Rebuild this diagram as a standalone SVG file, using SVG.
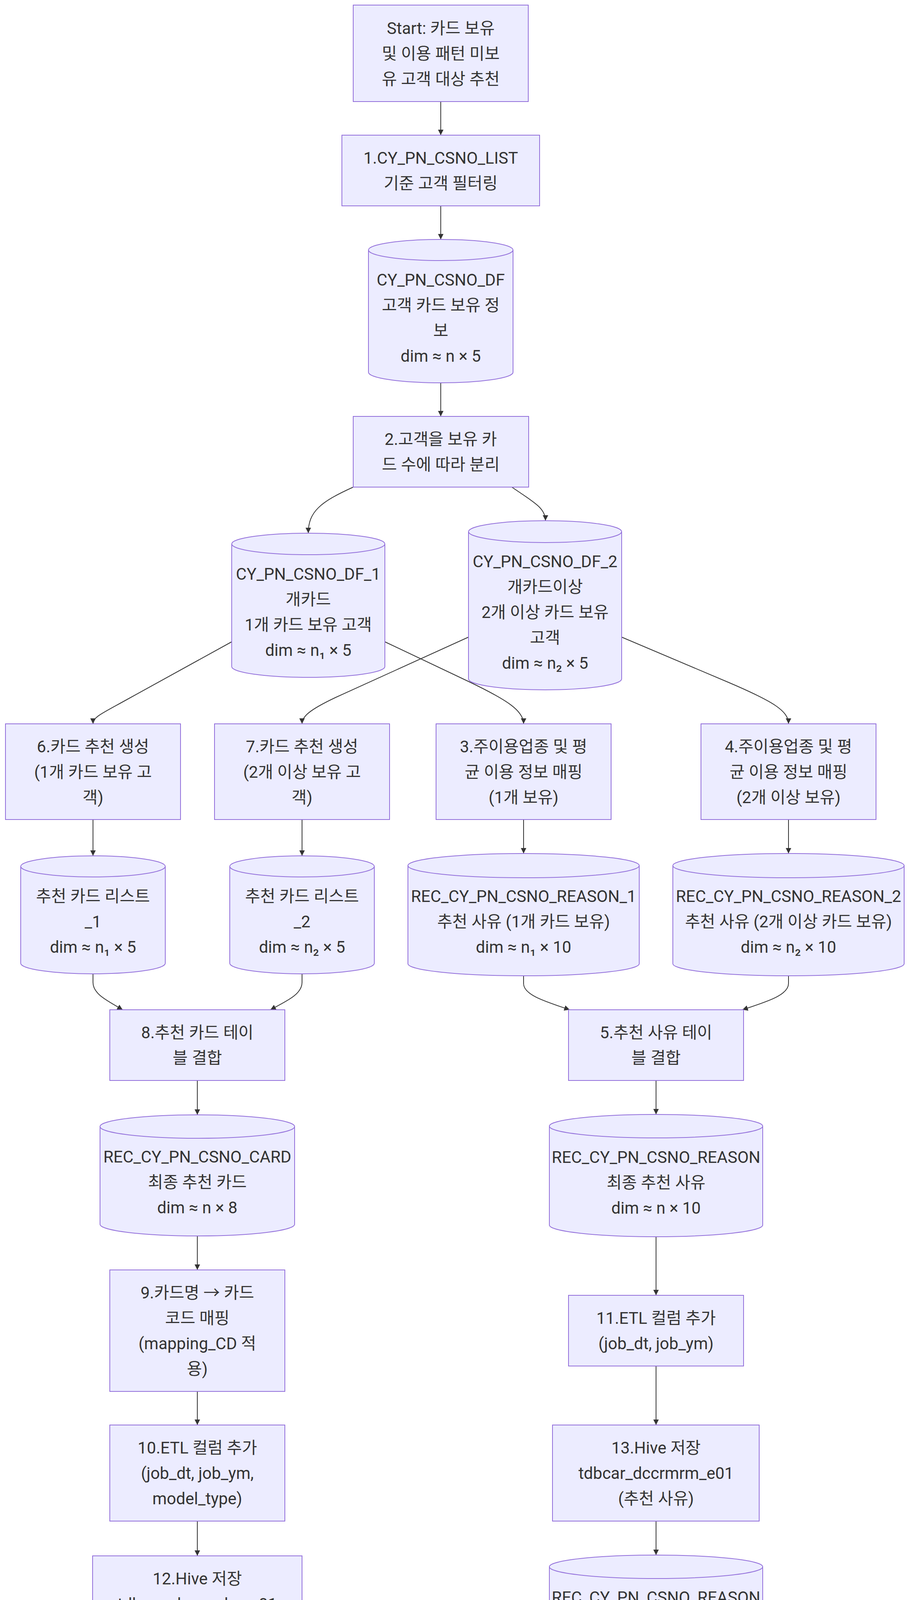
<svg xmlns="http://www.w3.org/2000/svg" width="2352" height="4827" viewBox="0 0 2352 4827">
<style>
.node rect, .node path { fill: #ECECFF; stroke: #9370DB; stroke-width: 2; }
text { font-family: Roboto, "Noto Sans CJK KR", sans-serif; font-size: 42px; fill: #333333; text-anchor: middle; }
.edge { fill: none; stroke: #333333; stroke-width: 2; marker-end: url(#arrow); }
</style>
<defs>
<marker id="arrow" viewBox="0 0 10 10" refX="10" refY="5" markerUnits="userSpaceOnUse" markerWidth="14" markerHeight="14" orient="auto">
<path d="M0,0 L10,5 L0,10 z" fill="#333333"/>
</marker>
</defs>
<rect width="2352" height="4827" fill="#ffffff"/>
<g id="edges">
<path class="edge" d="M1128,260 L1128,346"/>
<path class="edge" d="M1128,527 L1128,613"/>
<path class="edge" d="M1128,980 L1128,1066"/>
<path class="edge" d="M904,1247 C820,1285 789,1310 789,1365"/>
<path class="edge" d="M1310,1247 C1365,1285 1396,1300 1396,1333"/>
<path class="edge" d="M593,1643 L330,1788 C262,1826 238,1835 238,1853"/>
<path class="edge" d="M985,1643 L1200,1745 C1300,1793 1340,1820 1340,1853"/>
<path class="edge" d="M1199,1631 L860,1785 C790,1818 773,1835 773,1853"/>
<path class="edge" d="M1591,1631 L1860,1745 C1980,1796 2018,1820 2018,1853"/>
<path class="edge" d="M238,2098 L238,2191"/>
<path class="edge" d="M773,2098 L773,2191"/>
<path class="edge" d="M1340,2098 L1340,2185"/>
<path class="edge" d="M2018,2098 L2018,2185"/>
<path class="edge" d="M238,2493 L238,2515 C238,2545 275,2562 314,2585"/>
<path class="edge" d="M773,2493 L773,2515 C773,2545 735,2562 692,2585"/>
<path class="edge" d="M1340,2498 L1340,2518 C1340,2548 1400,2565 1458,2585"/>
<path class="edge" d="M2018,2498 L2018,2518 C2018,2548 1960,2565 1900,2585"/>
<path class="edge" d="M505,2766 L505,2854"/>
<path class="edge" d="M1679,2766 L1679,2853"/>
<path class="edge" d="M505,3164 L505,3251"/>
<path class="edge" d="M505,3562 L505,3648"/>
<path class="edge" d="M505,3894 L505,3983"/>
<path class="edge" d="M505,4228 L505,4315"/>
<path class="edge" d="M1679,3166 L1679,3316"/>
<path class="edge" d="M1679,3497 L1679,3648"/>
<path class="edge" d="M1679,3894 L1679,3981"/>
<path class="edge" d="M505,4560 L505,4575 C505,4605 560,4618 700,4640 L1015,4685"/>
<path class="edge" d="M1679,4228 L1679,4450 C1679,4590 1560,4630 1241,4682"/>
</g>
<g id="start" class="node">
<rect x="904" y="13" width="448" height="247"/>
<text x="1128" y="86.5">Start: 카드 보유</text>
<text x="1128" y="151.5">및 이용 패턴 미보</text>
<text x="1128" y="216.5">유 고객 대상 추천</text>
</g>
<g id="step1" class="node">
<rect x="875" y="346" width="506" height="181"/>
<text x="1128" y="419">1.CY_PN_CSNO_LIST</text>
<text x="1128" y="484">기준 고객 필터링</text>
</g>
<g id="df" class="node">
<path d="M943,640 a185,27 0 0 0 370,0 a185,27 0 0 0 -370,0 l0,313 a185,27 0 0 0 370,0 l0,-313"/>
<text x="1128" y="731">CY_PN_CSNO_DF</text>
<text x="1128" y="796">고객 카드 보유 정</text>
<text x="1128" y="861">보</text>
<text x="1128" y="926">dim ≈ n × 5</text>
</g>
<g id="step2" class="node">
<rect x="904" y="1066" width="449" height="181"/>
<text x="1128" y="1139">2.고객을 보유 카</text>
<text x="1128" y="1204">드 수에 따라 분리</text>
</g>
<g id="df1" class="node">
<path d="M593,1392.5 a196,27.5 0 0 0 392,0 a196,27.5 0 0 0 -392,0 l0,314 a196,27.5 0 0 0 392,0 l0,-314"/>
<text x="789" y="1484">CY_PN_CSNO_DF_1</text>
<text x="789" y="1549">개카드</text>
<text x="789" y="1614">1개 카드 보유 고객</text>
<text x="789" y="1679">dim ≈ n₁ × 5</text>
</g>
<g id="df2" class="node">
<path d="M1199,1361 a196,28 0 0 0 392,0 a196,28 0 0 0 -392,0 l0,377 a196,28 0 0 0 392,0 l0,-377"/>
<text x="1395" y="1451.5">CY_PN_CSNO_DF_2</text>
<text x="1395" y="1516.5">개카드이상</text>
<text x="1395" y="1581.5">2개 이상 카드 보유</text>
<text x="1395" y="1646.5">고객</text>
<text x="1395" y="1711.5">dim ≈ n₂ × 5</text>
</g>
<g id="step6" class="node">
<rect x="14" y="1853" width="448" height="245"/>
<text x="238" y="1925.5">6.카드 추천 생성</text>
<text x="238" y="1990.5">(1개 카드 보유 고</text>
<text x="238" y="2055.5">객)</text>
</g>
<g id="step7" class="node">
<rect x="549" y="1853" width="448" height="245"/>
<text x="773" y="1925.5">7.카드 추천 생성</text>
<text x="773" y="1990.5">(2개 이상 보유 고</text>
<text x="773" y="2055.5">객)</text>
</g>
<g id="step3" class="node">
<rect x="1116" y="1853" width="448" height="245"/>
<text x="1340" y="1925.5">3.주이용업종 및 평</text>
<text x="1340" y="1990.5">균 이용 정보 매핑</text>
<text x="1340" y="2055.5">(1개 보유)</text>
</g>
<g id="step4" class="node">
<rect x="1794" y="1853" width="448" height="245"/>
<text x="2018" y="1925.5">4.주이용업종 및 평</text>
<text x="2018" y="1990.5">균 이용 정보 매핑</text>
<text x="2018" y="2055.5">(2개 이상 보유)</text>
</g>
<g id="list1" class="node">
<path d="M53,2218 a185,27 0 0 0 370,0 a185,27 0 0 0 -370,0 l0,248 a185,27 0 0 0 370,0 l0,-248"/>
<text x="238" y="2309">추천 카드 리스트</text>
<text x="238" y="2374">_1</text>
<text x="238" y="2439">dim ≈ n₁ × 5</text>
</g>
<g id="list2" class="node">
<path d="M588,2218 a185,27 0 0 0 370,0 a185,27 0 0 0 -370,0 l0,248 a185,27 0 0 0 370,0 l0,-248"/>
<text x="773" y="2309">추천 카드 리스트</text>
<text x="773" y="2374">_2</text>
<text x="773" y="2439">dim ≈ n₂ × 5</text>
</g>
<g id="reason1" class="node">
<path d="M1044,2216 a296,31 0 0 0 592,0 a296,31 0 0 0 -592,0 l0,251 a296,31 0 0 0 592,0 l0,-251"/>
<text x="1340" y="2308.5">REC_CY_PN_CSNO_REASON_1</text>
<text x="1340" y="2373.5">추천 사유 (1개 카드 보유)</text>
<text x="1340" y="2438.5">dim ≈ n₁ × 10</text>
</g>
<g id="reason2" class="node">
<path d="M1722,2216 a296,31 0 0 0 592,0 a296,31 0 0 0 -592,0 l0,251 a296,31 0 0 0 592,0 l0,-251"/>
<text x="2018" y="2308.5">REC_CY_PN_CSNO_REASON_2</text>
<text x="2018" y="2373.5">추천 사유 (2개 이상 카드 보유)</text>
<text x="2018" y="2438.5">dim ≈ n₂ × 10</text>
</g>
<g id="step8" class="node">
<rect x="281" y="2585" width="448" height="181"/>
<text x="505" y="2658">8.추천 카드 테이</text>
<text x="505" y="2723">블 결합</text>
</g>
<g id="step5" class="node">
<rect x="1455" y="2585" width="448" height="181"/>
<text x="1679" y="2658">5.추천 사유 테이</text>
<text x="1679" y="2723">블 결합</text>
</g>
<g id="card" class="node">
<path d="M256,2884 a249,30 0 0 0 498,0 a249,30 0 0 0 -498,0 l0,250 a249,30 0 0 0 498,0 l0,-250"/>
<text x="505" y="2976">REC_CY_PN_CSNO_CARD</text>
<text x="505" y="3041">최종 추천 카드</text>
<text x="505" y="3106">dim ≈ n × 8</text>
</g>
<g id="reason" class="node">
<path d="M1406,2883 a273,30 0 0 0 546,0 a273,30 0 0 0 -546,0 l0,253 a273,30 0 0 0 546,0 l0,-253"/>
<text x="1679" y="2976.5">REC_CY_PN_CSNO_REASON</text>
<text x="1679" y="3041.5">최종 추천 사유</text>
<text x="1679" y="3106.5">dim ≈ n × 10</text>
</g>
<g id="step9" class="node">
<rect x="281" y="3251" width="448" height="311"/>
<text x="505" y="3324">9.카드명 → 카드</text>
<text x="505" y="3389">코드 매핑</text>
<text x="505" y="3454">(mapping_CD 적</text>
<text x="505" y="3519">용)</text>
</g>
<g id="step11" class="node">
<rect x="1455" y="3316" width="448" height="181"/>
<text x="1679" y="3389">11.ETL 컬럼 추가</text>
<text x="1679" y="3454">(job_dt, job_ym)</text>
</g>
<g id="step10" class="node">
<rect x="281" y="3648" width="448" height="246"/>
<text x="505" y="3721">10.ETL 컬럼 추가</text>
<text x="505" y="3786">(job_dt, job_ym,</text>
<text x="505" y="3851">model_type)</text>
</g>
<g id="step13" class="node">
<rect x="1414" y="3648" width="529" height="246"/>
<text x="1679" y="3721">13.Hive 저장</text>
<text x="1679" y="3786">tdbcar_dccrmrm_e01</text>
<text x="1679" y="3851">(추천 사유)</text>
</g>
<g id="step12" class="node">
<rect x="237" y="3983" width="536" height="245"/>
<text x="505" y="4055.5">12.Hive 저장</text>
<text x="505" y="4120.5">tdbcar_dcrmgdm_e01</text>
<text x="505" y="4185.5">(추천 결과)</text>
</g>
<g id="reason_final" class="node">
<path d="M1406,4011 a273,30 0 0 0 546,0 a273,30 0 0 0 -546,0 l0,187 a273,30 0 0 0 546,0 l0,-187"/>
<text x="1679" y="4104">REC_CY_PN_CSNO_REASON</text>
<text x="1679" y="4169">dim ≈ 12 × n₂</text>
</g>
<g id="card_final" class="node">
<path d="M256,4345 a249,30 0 0 0 498,0 a249,30 0 0 0 -498,0 l0,185 a249,30 0 0 0 498,0 l0,-185"/>
<text x="505" y="4437">REC_CY_PN_CSNO_CARD</text>
<text x="505" y="4502">dim ≈ 11 × n₂</text>
</g>
<g id="return" class="node">
<rect x="1015" y="4647" width="226" height="115"/>
<text x="1128" y="4719.5">return</text>
</g>
</svg>
